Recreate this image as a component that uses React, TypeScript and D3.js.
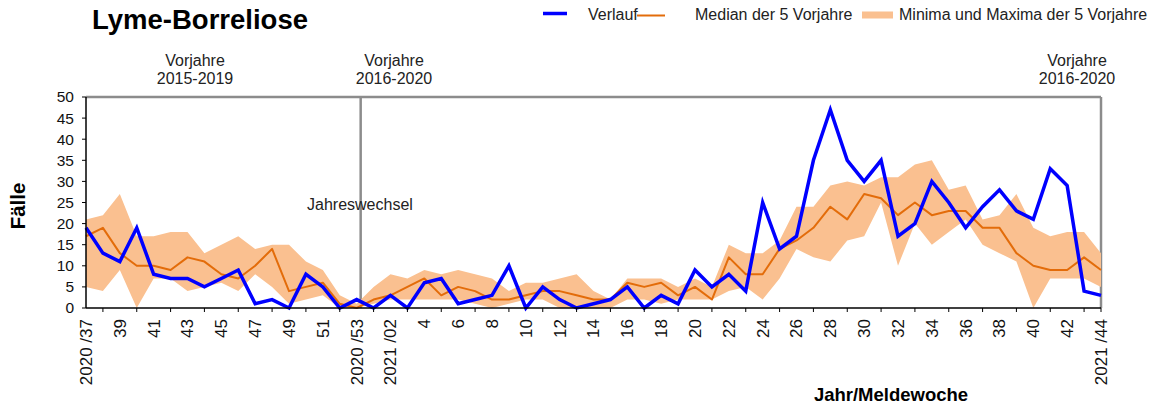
import React, { useEffect, useRef } from 'react';
import * as d3 from 'd3';

// Meldewochen 2020/37 .. 2021/44
const weeks = [
  '2020/37', '2020/38', '2020/39', '2020/40', '2020/41', '2020/42', '2020/43', '2020/44', '2020/45',
  '2020/46', '2020/47', '2020/48', '2020/49', '2020/50', '2020/51', '2020/52', '2020/53',
  '2021/01', '2021/02', '2021/03', '2021/04', '2021/05', '2021/06', '2021/07', '2021/08', '2021/09',
  '2021/10', '2021/11', '2021/12', '2021/13', '2021/14', '2021/15', '2021/16', '2021/17', '2021/18',
  '2021/19', '2021/20', '2021/21', '2021/22', '2021/23', '2021/24', '2021/25', '2021/26', '2021/27',
  '2021/28', '2021/29', '2021/30', '2021/31', '2021/32', '2021/33', '2021/34', '2021/35', '2021/36',
  '2021/37', '2021/38', '2021/39', '2021/40', '2021/41', '2021/42', '2021/43', '2021/44',
];

const verlauf = [
  19, 13, 11, 19, 8, 7, 7, 5, 7, 9, 1, 2, 0, 8, 5, 0, 2,
  0, 3, 0, 6, 7, 1, 2, 3, 10, 0, 5, 2, 0, 1, 2, 5, 0, 3, 1, 9, 5, 8, 4, 25, 14, 17, 35, 47, 35, 30,
  35, 17, 20, 30, 25, 19, 24, 28, 23, 21, 33, 29, 4, 3,
];

const median = [
  17, 19, 13, 10, 10, 9, 12, 11, 8, 7, 10, 14, 4, 5, 6, 1, 0,
  2, 3, 5, 7, 3, 5, 4, 2, 2, 3, 4, 4, 3, 2, 2, 6, 5, 6, 3, 5, 2, 12, 8, 8, 14, 16, 19, 24, 21, 27,
  26, 22, 25, 22, 23, 23, 19, 19, 13, 10, 9, 9, 12, 9,
];

const minima = [
  5, 4, 9, 0, 7, 7, 4, 5, 6, 4, 8, 5, 1, 2, 3, 0, 0,
  1, 2, 2, 2, 2, 2, 1, 0, 1, 2, 2, 0, 0, 0, 0, 2, 2, 1, 2, 2, 2, 4, 5, 2, 7, 14, 12, 11, 16, 17,
  25, 10, 20, 15, 18, 21, 15, 13, 11, 0, 7, 7, 7, 5,
];

const maxima = [
  21, 22, 27, 17, 17, 18, 18, 13, 15, 17, 14, 15, 15, 11, 9, 3, 1,
  5, 8, 7, 9, 8, 9, 8, 7, 4, 6, 6, 7, 8, 4, 2, 7, 7, 7, 5, 7, 5, 15, 13, 13, 16, 24, 24, 29, 30, 29,
  31, 31, 34, 35, 28, 29, 21, 22, 27, 19, 17, 18, 18, 13,
];

// shown on every second week
const xTickLabels = [
  '2020 /37', '39', '41', '43', '45', '47', '49', '51', '2020 /53', '2021 /02', '4', '6', '8', '10',
  '12', '14', '16', '18', '20', '22', '24', '26', '28', '30', '32', '34', '36', '38', '40', '42', '2021 /44',
];

const yTicks = [0, 5, 10, 15, 20, 25, 30, 35, 40, 45, 50];

const FONT = "'Liberation Sans', Arial, sans-serif";

const App = () => {
  const svgRef = useRef<SVGSVGElement>(null);

  useEffect(() => {
    const width = 1158;
    const height = 405;
    const plot = { left: 86, right: 1101, top: 97, bottom: 308 };

    const svg = d3.select(svgRef.current);
    svg.selectAll('*').remove();
    svg.attr('width', width).attr('height', height).style('font-family', FONT);

    const x = d3.scalePoint<string>().domain(weeks).range([plot.left, plot.right]);
    const y = d3.scaleLinear().domain([0, 50]).range([plot.bottom, plot.top]);
    const xi = (i: number) => x(weeks[i]) as number;

    // Title
    svg.append('text')
      .attr('x', 92).attr('y', 29)
      .attr('font-size', 27.5).attr('font-weight', 'bold')
      .text('Lyme-Borreliose');

    // Legend
    const lg = svg.append('g').attr('font-size', 16).attr('fill', '#222');
    lg.append('line').attr('x1', 543).attr('x2', 567).attr('y1', 13.5).attr('y2', 13.5)
      .attr('stroke', '#0000ff').attr('stroke-width', 3.5);
    lg.append('text').attr('x', 588).attr('y', 20).text('Verlauf');
    lg.append('line').attr('x1', 637).attr('x2', 665).attr('y1', 15.5).attr('y2', 15.5)
      .attr('stroke', '#e36c0a').attr('stroke-width', 2);
    lg.append('text').attr('x', 695).attr('y', 20).text('Median der 5 Vorjahre');
    lg.append('rect').attr('x', 862).attr('y', 11.5).attr('width', 31).attr('height', 7).attr('fill', '#fac090');
    lg.append('text').attr('x', 899).attr('y', 20).text('Minima und Maxima der 5 Vorjahre');

    // Vorjahre annotations
    const notes = [
      { cx: 195, a: 'Vorjahre', b: '2015-2019' },
      { cx: 394, a: 'Vorjahre', b: '2016-2020' },
      { cx: 1077, a: 'Vorjahre', b: '2016-2020' },
    ];
    notes.forEach(n => {
      const t = svg.append('text').attr('text-anchor', 'middle').attr('font-size', 16).attr('fill', '#222');
      t.append('tspan').attr('x', n.cx).attr('y', 66).text(n.a);
      t.append('tspan').attr('x', n.cx).attr('y', 84).text(n.b);
    });

    // Frame (top / right) and year-change line
    svg.append('line').attr('x1', plot.left).attr('x2', plot.right).attr('y1', plot.top).attr('y2', plot.top)
      .attr('stroke', '#8c8c8c').attr('stroke-width', 2.5);
    svg.append('line').attr('x1', plot.right).attr('x2', plot.right).attr('y1', plot.top).attr('y2', plot.bottom)
      .attr('stroke', '#8c8c8c').attr('stroke-width', 2.5);
    const jx = xi(16) + 4;
    svg.append('line').attr('x1', jx).attr('x2', jx).attr('y1', plot.top).attr('y2', plot.bottom)
      .attr('stroke', '#8c8c8c').attr('stroke-width', 2.5);
    svg.append('text').attr('x', 307).attr('y', 210).attr('font-size', 16).attr('fill', '#222').text('Jahreswechsel');

    // Band min/max
    const band = d3.area<number>()
      .x((_, i) => xi(i))
      .y0((_, i) => y(minima[i]))
      .y1((_, i) => y(maxima[i]));
    svg.append('path').datum(minima).attr('d', band).attr('fill', '#fac090');

    // Median
    const line = d3.line<number>().x((_, i) => xi(i)).y(d => y(d));
    svg.append('path').datum(median).attr('d', line)
      .attr('fill', 'none').attr('stroke', '#e36c0a').attr('stroke-width', 2).attr('stroke-linejoin', 'round');

    // Verlauf
    svg.append('path').datum(verlauf).attr('d', line)
      .attr('fill', 'none').attr('stroke', '#0000ff').attr('stroke-width', 3.5).attr('stroke-linejoin', 'miter');

    // Y axis
    const ya = svg.append('g');
    ya.append('line').attr('x1', plot.left).attr('x2', plot.left).attr('y1', plot.top).attr('y2', plot.bottom)
      .attr('stroke', '#000').attr('stroke-width', 1.5);
    yTicks.forEach(v => {
      ya.append('line').attr('x1', plot.left - 4).attr('x2', plot.left).attr('y1', y(v)).attr('y2', y(v))
        .attr('stroke', '#000').attr('stroke-width', 1);
      ya.append('text').attr('x', plot.left - 12).attr('y', y(v)).attr('dy', '0.35em')
        .attr('text-anchor', 'end').attr('font-size', 15.5).attr('fill', '#111').text(v);
    });
    svg.append('text')
      .attr('transform', `translate(25, 206) rotate(-90)`)
      .attr('text-anchor', 'middle').attr('font-size', 20.5).attr('font-weight', 'bold')
      .text('Fälle');

    // X axis
    const xa = svg.append('g');
    xa.append('line').attr('x1', plot.left).attr('x2', plot.right).attr('y1', plot.bottom).attr('y2', plot.bottom)
      .attr('stroke', '#000').attr('stroke-width', 1.5);
    weeks.forEach((w, i) => {
      if (i % 2 === 1 || i === weeks.length - 1) {
        xa.append('line').attr('x1', xi(i)).attr('x2', xi(i)).attr('y1', plot.bottom).attr('y2', plot.bottom + 4)
          .attr('stroke', '#000').attr('stroke-width', 1);
      }
    });
    xTickLabels.forEach((lbl, k) => {
      const px = xi(k * 2);
      xa.append('text')
        .attr('transform', `translate(${px}, 319) rotate(-90)`)
        .attr('dy', '0.35em').attr('text-anchor', 'end')
        .attr('font-size', 17).attr('fill', '#111')
        .text(lbl);
    });
    svg.append('text').attr('x', 891).attr('y', 401).attr('text-anchor', 'middle')
      .attr('font-size', 18.5).attr('font-weight', 'bold').text('Jahr/Meldewoche');
  }, []);

  return <svg ref={svgRef} style={{ position: 'absolute', left: 0, top: 0 }} />;
};

export default App;
